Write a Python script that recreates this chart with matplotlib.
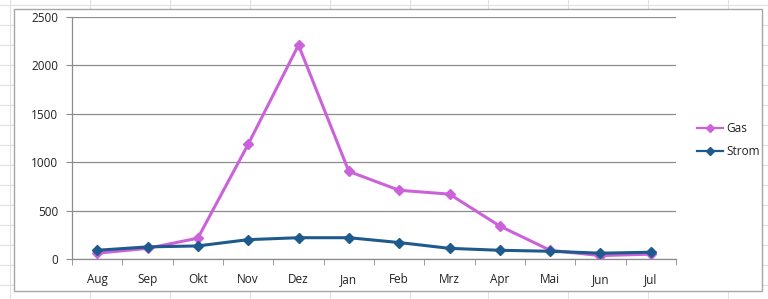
import numpy as np
import matplotlib.pyplot as plt
from matplotlib.lines import Line2D
from matplotlib.patches import Rectangle

# --- Daten ---
monate = ['Aug', 'Sep', 'Okt', 'Nov', 'Dez', 'Jan', 'Feb', 'Mrz', 'Apr', 'Mai', 'Jun', 'Jul']
gas = [60, 110, 215, 1185, 2210, 905, 710, 670, 340, 90, 35, 50]
strom = [90, 125, 135, 200, 220, 220, 170, 110, 90, 80, 60, 70]
y_ticks = [0, 500, 1000, 1500, 2000, 2500]

W, H = 768, 299
fig = plt.figure(figsize=(W / 100, H / 100), dpi=100)
fig.patch.set_facecolor('white')
plt.rcParams['font.family'] = ['Open Sans', 'DejaVu Sans']

# --- Tabellen-Raster im Hintergrund ---
for xp in [10, 90, 170, 250, 330, 410, 488, 568, 648, 728]:
    fig.add_artist(Line2D([xp / W, xp / W], [0, 1], color='#e0e0e0', lw=0.8, zorder=0))
for yp in range(0, H, 20):
    fig.add_artist(Line2D([0, 1], [1 - (yp + 5) / H, 1 - (yp + 5) / H], color='#e0e0e0', lw=0.8, zorder=0))

# Diagrammrahmen
fig.add_artist(Rectangle((14 / W, 1 - 291 / H), (762 - 14) / W, (291 - 9) / H,
                         facecolor='white', edgecolor='#a6a6a6', lw=1.0, zorder=1))

ax = fig.add_axes([72 / W, 1 - 259 / H, (676 - 72) / W, (259 - 17) / H], zorder=2)
ax.set_facecolor('none')

x = np.arange(len(monate))
ax.plot(x, gas, color='#cc62da', lw=2.2, marker='D', ms=5.5, label='Gas')
ax.plot(x, strom, color='#1f5a8c', lw=2.2, marker='D', ms=5.5, label='Strom')

ax.set_xlim(-0.5, len(monate) - 0.5)
ax.set_ylim(0, 2500)
ax.set_yticks(y_ticks)
ax.set_yticklabels([str(v) for v in y_ticks])
ax.yaxis.grid(True, color='#8c8c8c', lw=0.9)
ax.set_axisbelow(True)

ax.set_xticks(x)
ax.set_xticklabels(monate)
ax.set_xticks(np.arange(-0.5, len(monate)), minor=True)
ax.tick_params(axis='x', which='major', length=0, pad=10, labelsize=8.5, colors='#222222')
ax.tick_params(axis='x', which='minor', length=4, color='#8c8c8c')
ax.tick_params(axis='y', length=4, color='#8c8c8c', labelsize=8.5, labelcolor='#222222', pad=6)

for s in ['top', 'right']:
    ax.spines[s].set_visible(False)
for s in ['left', 'bottom']:
    ax.spines[s].set_color('#8c8c8c')
    ax.spines[s].set_linewidth(0.9)

leg = fig.legend(loc='center left', bbox_to_anchor=(686 / W, 1 - 140 / H), frameon=False,
                 fontsize=8.5, handlelength=2.2, handletextpad=0.3, labelspacing=0.9,
                 markerscale=0.8)
for t in leg.get_texts():
    t.set_color('#222222')
for h in leg.get_lines():
    h.set_linewidth(1.6)

fig.savefig('out.png', dpi=100)
